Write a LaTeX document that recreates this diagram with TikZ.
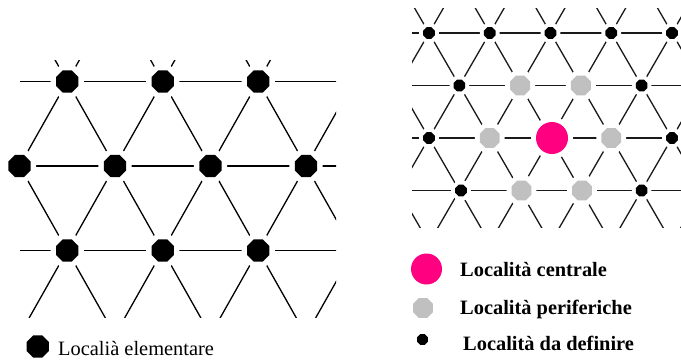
\documentclass[tikz,border=0pt]{standalone}
\usepackage{fontspec}
\setmainfont{Liberation Serif}
\usetikzlibrary{shapes.geometric}
\definecolor{pinkc}{RGB}{255,0,128}
\definecolor{greyc}{RGB}{192,192,192}
\begin{document}
\begin{tikzpicture}[x=1pt,y=-1pt,
  halo/.style={preaction={draw=white,fill=white,line width=#1}},
  octo/.style={regular polygon,regular polygon sides=8,inner sep=0pt,draw=none},
  bigdot/.style={octo,minimum size=24pt,fill=black},
  smalldot/.style={octo,minimum size=12.5pt,fill=black},
  greydot/.style={octo,minimum size=21.5pt,fill=greyc},
  pinkdot/.style={circle,inner sep=0pt,minimum size=32pt,fill=pinkc},
  latL/.style={draw=black,line width=1.3pt},
  latR/.style={draw=black!90,line width=1.3pt},
  legR/.style={anchor=base west,inner sep=0pt,font=\fontsize{20.4}{24}\selectfont\bfseries},
  legL/.style={anchor=base west,inner sep=0pt,font=\fontsize{20.4}{24}\selectfont}
]
\useasboundingbox (0,0) rectangle (681,362);

% ---------- left lattice ----------
\begin{scope}
  \clip (20,60) rectangle (336,317);
  \foreach \y in {81.5,166,250.5} \draw[latL] (0,\y) -- (681,\y);
  \foreach \k in {-3,...,6} {
    \draw[latL] ({19.5+95.5*\k-95.5},-3) -- ({19.5+95.5*\k+95.5},335);
    \draw[latL] ({19.5+95.5*\k+95.5},-3) -- ({19.5+95.5*\k-95.5},335);
  }
\end{scope}
\foreach \x [count=\i] in {67.25,162.75,258.25}
  \node[bigdot,halo=11pt] (l1\i) at (\x,81.5) {};
\foreach \x [count=\i] in {19.5,115,210.5,306}
  \node[bigdot,halo=11pt] (l2\i) at (\x,166) {};
\foreach \x [count=\i] in {67.25,162.75,258.25}
  \node[bigdot,halo=11pt] (l3\i) at (\x,250.5) {};

% ---------- right lattice ----------
\begin{scope}
  \clip (412,8) rectangle (681,227);
  \foreach \y in {33,85.5,138,190.5} \draw[latR] (400,\y) -- (681,\y);
  \foreach \k in {-4,...,8} {
    \draw[latR] ({429+60.75*\k-91.125},-19.5) -- ({429+60.75*\k+91.125},295.5);
    \draw[latR] ({429+60.75*\k+91.125},-19.5) -- ({429+60.75*\k-91.125},295.5);
  }
\end{scope}
% row A
\foreach \x [count=\i] in {429,489.75,550.5,611.25,672}
  \node[smalldot,halo=8pt] (rA\i) at (\x,33) {};
% row B
\node[smalldot,halo=8pt] (rB1) at (459.4,85.5) {};
\node[greydot,halo=10pt] (rB2) at (520.1,85.5) {};
\node[greydot,halo=10pt] (rB3) at (580.9,85.5) {};
\node[smalldot,halo=8pt] (rB4) at (641.6,85.5) {};
% row C
\node[smalldot,halo=8pt] (rC1) at (429,138) {};
\node[greydot,halo=10pt] (rC2) at (489.75,138) {};
\node[pinkdot,halo=10pt] (rC3) at (552,138) {};
\node[greydot,halo=10pt] (rC4) at (611.25,138) {};
\node[smalldot,halo=8pt] (rC5) at (672,138) {};
% row D
\node[smalldot,halo=8pt] (rD1) at (461,190.5) {};
\node[greydot,halo=10pt] (rD2) at (521.5,190.5) {};
\node[greydot,halo=10pt] (rD3) at (582,190.5) {};
\node[smalldot,halo=8pt] (rD4) at (641.6,190.5) {};

% ---------- legends ----------
\node[bigdot,minimum size=24pt] (legL) at (37.7,346.5) {};
\node[legL] (legLt) at (58,355) {Localià elementare};

\node[pinkdot,minimum size=31pt] (legP) at (426.5,269) {};
\node[legR] (legPt) at (460,276.5) {Località centrale};
\node[greydot,minimum size=21.5pt] (legG) at (423,308) {};
\node[legR] (legGt) at (460,314) {Località periferiche};
\node[smalldot,minimum size=11.5pt] (legB) at (422.5,339.5) {};
\node[legR] (legBt) at (463,350) {Località da definire};
\end{tikzpicture}
\end{document}
